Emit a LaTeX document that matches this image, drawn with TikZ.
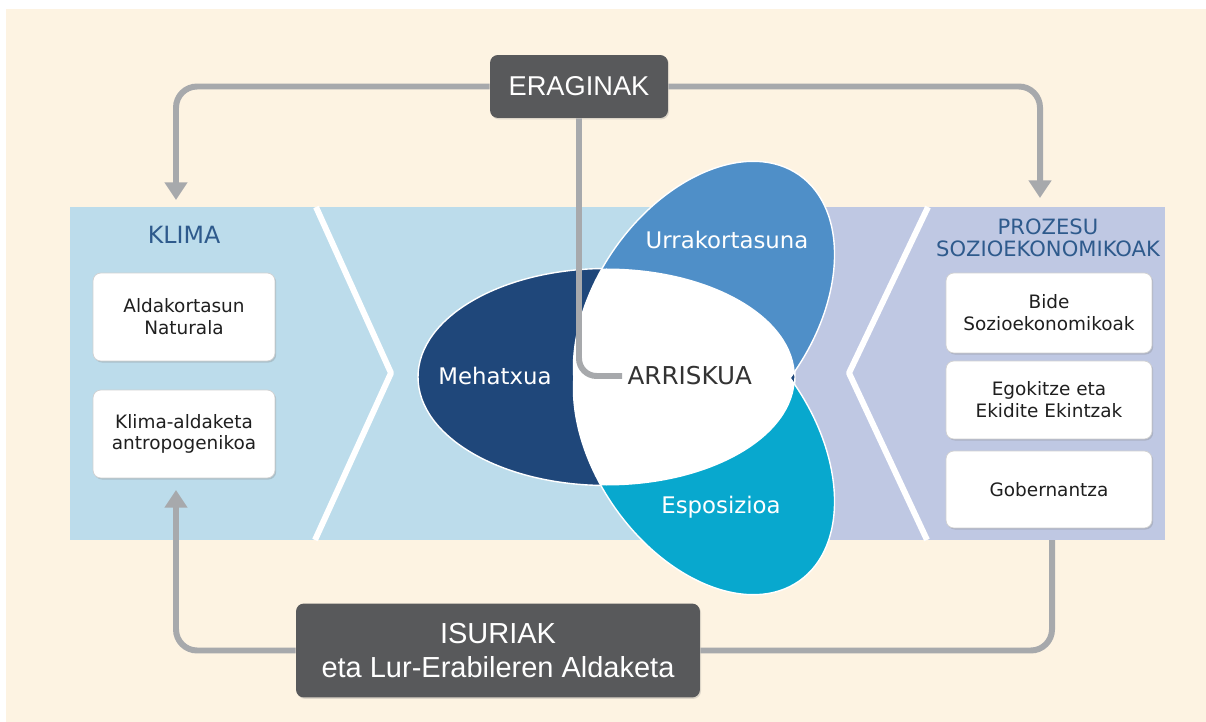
\documentclass[tikz,border=0pt]{standalone}
\usepackage{fontspec}
\setmainfont{DejaVu Sans}
\newfontfamily\hdfont{Liberation Sans}
\usetikzlibrary{arrows.meta,shadows}
\definecolor{cream}{HTML}{FDF3E2}
\definecolor{bandblue}{HTML}{BCDCEB}
\definecolor{bandlav}{HTML}{BFC8E3}
\definecolor{mehblue}{HTML}{1F477A}
\definecolor{urrblue}{HTML}{4F8FC8}
\definecolor{espblue}{HTML}{08A8CE}
\definecolor{boxgrey}{HTML}{58595B}
\definecolor{linegrey}{HTML}{A7A9AC}
\definecolor{titblue}{HTML}{2E5A8C}

\begin{document}
\begin{tikzpicture}[x=0.02cm,y=-0.02cm,
    whitebox/.style={draw=black!18,fill=white,rounded corners=4.5pt,align=center,inner sep=0pt,
      font=\fontsize{10.5}{12.4}\selectfont,text=black!88,
      drop shadow={shadow xshift=.7pt,shadow yshift=-.9pt,opacity=.3}},
    darkbox/.style={fill=boxgrey,rounded corners=4.5pt,text=white,align=center,inner sep=0pt,
      drop shadow={shadow xshift=.6pt,shadow yshift=-.8pt,opacity=.25}},
    conn/.style={draw=linegrey,line width=3.4pt,rounded corners=12pt},
    arrowtip/.style={-{Triangle[width=12.5pt,length=10pt]}},
    petal/.style={text=white,font=\fontsize{13}{15}\selectfont}]
  \useasboundingbox (0,0) rectangle (1206,722);
  \fill[white] (0,0) rectangle (1206,722);
  \fill[cream] (6,9) rectangle (1206,722);

  % band
  \node[fill=bandblue,minimum width=21.9cm,minimum height=6.66cm,inner sep=0pt] (band) at (617.5,373.5) {};
  \fill[bandlav] (795,207) rectangle (band.south east);
  \draw[white,line width=3.4pt,line join=round] (316,207)--(391,373)--(315,540);
  \draw[white,line width=3.4pt,line join=round] (928,207)--(849,373)--(927,540);

  % petals
  \path[fill=mehblue,draw=white,line width=.8pt] (606.5,377) ellipse [x radius=188.5,y radius=108.5];
  \path[fill=urrblue,draw=white,line width=.8pt,rotate around={55:(704,311)}] (704,311) ellipse [x radius=166,y radius=109];
  \path[fill=espblue,draw=white,line width=.8pt,rotate around={-55:(704,445)}] (704,445) ellipse [x radius=166,y radius=109];
  \begin{scope}
    \clip (606.5,377) ellipse [x radius=188.5,y radius=108.5];
    \fill[white,rotate around={55:(704,311)}] (704,311) ellipse [x radius=166,y radius=109];
    \fill[white,rotate around={-55:(704,445)}] (704,445) ellipse [x radius=166,y radius=109];
  \end{scope}
  \node[petal] (meh) at (495,376) {Mehatxua};
  \node[petal] (urr) at (727,240) {Urrakortasuna};
  \node[petal] (esp) at (721,507) {Esposizioa};
  \node[anchor=west,inner sep=3pt,text=black!80,font=\fontsize{14}{16}\selectfont] (arr) at (622,376) {ARRISKUA};

  % klima
  \node[text=titblue,font=\fontsize{13.5}{16}\selectfont] (klima) at (184,235) {KLIMA};
  \node[whitebox,minimum width=3.64cm,minimum height=1.76cm] (nat) at (184,317) {Aldakortasun\\Naturala};
  \node[whitebox,minimum width=3.64cm,minimum height=1.76cm] (antro) at (184,434) {Klima-aldaketa\\antropogenikoa};

  % prozesu
  \node[text=titblue,align=center,font=\fontsize{12}{12.6}\selectfont] (proz) at (1048,238) {PROZESU\\SOZIOEKONOMIKOAK};
  \node[whitebox,minimum width=4.12cm,minimum height=1.6cm] (bide) at (1049,313) {Bide\\Sozioekonomikoak};
  \node[whitebox,minimum width=4.12cm,minimum height=1.56cm] (egok) at (1049,400) {Egokitze eta\\Ekidite Ekintzak};
  \node[whitebox,minimum width=4.12cm,minimum height=1.54cm] (gob) at (1049,489.5) {Gobernantza};

  % dark boxes
  \node[darkbox,minimum width=3.56cm,minimum height=1.26cm,font=\hdfont\fontsize{15.5}{18}\selectfont] (erag) at (579,86.5) {ERAGINAK};
  \node[darkbox,minimum width=8.08cm,minimum height=1.88cm,font=\hdfont\fontsize{16.5}{19}\selectfont] (isur) at (498,650.5) {ISURIAK\\eta Lur-Erabileren Aldaketa};

  \coordinate (klimain) at (176,200);
  \coordinate (prozin) at (1040,198);
  \coordinate (klimaup) at (176,490);
  \coordinate (gobout) at (1052,540);
  \draw[conn,arrowtip] (erag.west) -| (klimain);
  \draw[conn,arrowtip] (erag.east) -| (prozin);
  \draw[conn,rounded corners=10pt] (erag.south) |- (arr.west);
  \draw[conn] (gobout) |- (isur.east);
  \draw[conn,arrowtip] (isur.west) -| (klimaup);
\end{tikzpicture}
\end{document}
